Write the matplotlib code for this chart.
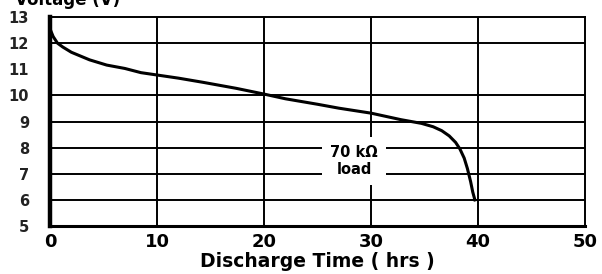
import matplotlib
matplotlib.use('Agg')
import numpy as np
import matplotlib.pyplot as plt

# discharge curve
hours = [0, 0.3, 0.7, 1.2, 2, 3.7, 5.3, 7, 8.5, 10, 12, 14.3, 17.4, 20, 22, 25,
         27, 30, 32.8, 34.7, 35.8, 36.6, 37.3, 37.9, 38.3, 38.7, 39.0, 39.3,
         39.5, 39.7]
volts = [12.55, 12.25, 12.0, 11.85, 11.65, 11.36, 11.16, 11.03, 10.87, 10.78,
         10.66, 10.5, 10.27, 10.05, 9.87, 9.66, 9.51, 9.32, 9.07, 8.93, 8.8,
         8.65, 8.45, 8.2, 7.95, 7.6, 7.2, 6.7, 6.3, 6.0]

x_ticks = [0, 10, 20, 30, 40, 50]
y_ticks = [5, 6, 7, 8, 9, 10, 11, 12, 13]
h_grid = [6, 7, 8, 9, 10, 12]   # no line at 11 in the original
v_grid = [10, 20, 30, 40]

fig = plt.figure(figsize=(6.02, 2.74), dpi=100)
ax = fig.add_axes([0.083, 0.175, 0.889, 0.763])

for v in h_grid:
    ax.axhline(v, color='black', lw=1.4, zorder=1)
for h in v_grid:
    ax.axvline(h, color='black', lw=1.4, zorder=1)

ax.plot(hours, volts, color='black', lw=2.2, zorder=3)

ax.set_xlim(0, 50)
ax.set_ylim(5, 13)
ax.set_xticks(x_ticks)
ax.set_yticks(y_ticks)
ax.tick_params(length=0)
ax.tick_params(axis='x', pad=5, labelsize=13)
ax.tick_params(axis='y', pad=15, labelsize=10.5, labelcolor='#222222')
for lab in ax.get_xticklabels() + ax.get_yticklabels():
    lab.set_fontweight('bold')

for s in ['top', 'right']:
    ax.spines[s].set_linewidth(1.4)
ax.spines['left'].set_linewidth(3.2)
ax.spines['bottom'].set_linewidth(2.2)

ax.set_xlabel('Discharge Time ( hrs )', fontsize=13.5, fontweight='bold', labelpad=1)

ax.text(28.4, 7.5, '70 k\u03a9\nload', ha='center', va='center',
        fontsize=10.5, fontweight='bold', linespacing=1.15, zorder=4,
        bbox=dict(facecolor='white', edgecolor='none', pad=6))

fig.text(0.025, 0.982, 'Voltage (V)', ha='left', va='baseline',
         fontsize=12, fontweight='bold')

fig.savefig('out.png', dpi=100)
